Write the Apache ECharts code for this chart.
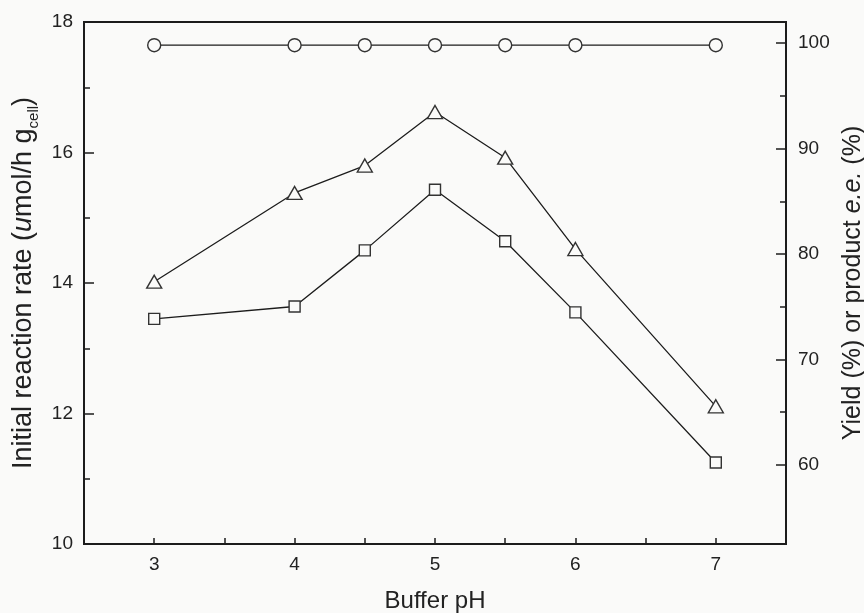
<!DOCTYPE html>
<html>
<head>
<meta charset="utf-8">
<script src="https://cdn.jsdelivr.net/npm/echarts@6/dist/echarts.min.js"></script>
<style>
html,body{margin:0;padding:0;background:#fafaf9;}
#c{width:864px;height:613px;}
</style>
</head>
<body>
<div id="c"></div>
<script>
// Data
const pH = [3, 4, 4.5, 5, 5.5, 6, 7];
const rateTriangle = [14.02, 15.38, 15.8, 16.62, 15.92, 14.52, 12.11]; // left axis
const rateSquare = [13.45, 13.64, 14.5, 15.43, 14.64, 13.55, 11.25];   // left axis
const eeCircle = [99.8, 99.8, 99.8, 99.8, 99.8, 99.8, 99.8];            // right axis (%)
const leftTicks = [10, 12, 14, 16, 18];
const rightTicks = [60, 70, 80, 90, 100];
const rightMinor = [65, 75, 85, 95];

const pairs = (ys) => pH.map((x, i) => [x, ys[i]]);
const ink = '#1c1c1c';
const bg = '#fafaf9';
const txt = '#222';
const font = 'Liberation Sans, Arial, sans-serif';

const chart = echarts.init(document.getElementById('c'), null, {renderer: 'canvas'});
const lineSeries = (name, ys, yIdx, symbol, size) => ({
  name, type: 'line', data: pairs(ys), yAxisIndex: yIdx,
  symbol, symbolSize: size, showSymbol: true,
  lineStyle: {color: ink, width: 1.3},
  itemStyle: {color: bg, borderColor: '#333', borderWidth: 1.4},
  emphasis: {disabled: true}, animation: false, z: 3
});

chart.setOption({
  backgroundColor: bg,
  animation: false,
  grid: {left: 84, right: 78, top: 22, bottom: 69, containLabel: false, outerBoundsMode: 'none',
    show: true, borderColor: ink, borderWidth: 2, backgroundColor: 'transparent'},
  xAxis: {
    type: 'value', min: 2.5, max: 7.5, interval: 0.5,
    name: 'Buffer pH', nameLocation: 'middle', nameGap: 45,
    nameTextStyle: {fontFamily: font, fontSize: 24, color: txt},
    axisLine: {show: true, lineStyle: {color: ink, width: 2}},
    axisTick: {show: true, inside: true, length: 6, lineStyle: {color: ink, width: 1.5}},
    axisLabel: {fontFamily: font, fontSize: 19, color: txt, margin: 11,
      formatter: v => (Math.abs(v - Math.round(v)) < 1e-9 ? String(Math.round(v)) : '')},
    splitLine: {show: false}
  },
  yAxis: [
    {
      type: 'value', position: 'left', min: 10, max: 18, interval: 2,
      name: '{n|Initial reaction rate (}{i|u}{n|mol/h g}{s|cell}{n|)}',
      nameLocation: 'middle', nameGap: 43, nameRotate: 90,
      nameTextStyle: {
        fontFamily: font, fontSize: 27, color: txt,
        rich: {
          n: {fontFamily: font, fontSize: 27, color: txt},
          i: {fontFamily: font, fontSize: 27, color: txt, fontStyle: 'italic'},
          s: {fontFamily: font, fontSize: 15, color: txt, verticalAlign: 'bottom', padding: [19, 0, 0, 0]}
        }
      },
      axisLine: {show: true, lineStyle: {color: ink, width: 2}},
      axisTick: {show: true, inside: true, length: 10, lineStyle: {color: ink, width: 1.5}},
      minorTick: {show: true, splitNumber: 2, length: 6, lineStyle: {color: ink, width: 1.5}},
      axisLabel: {fontFamily: font, fontSize: 19, color: txt, margin: 11},
      splitLine: {show: false}
    },
    {
      type: 'value', position: 'right', min: 52.5, max: 102,
      name: '{n|Yield (%) or product }{i|e.e.}{n| (%)}',
      nameLocation: 'middle', nameGap: 48, nameRotate: 90,
      nameTextStyle: {
        fontFamily: font, fontSize: 25, color: txt,
        rich: {
          n: {fontFamily: font, fontSize: 25, color: txt},
          i: {fontFamily: font, fontSize: 25, color: txt, fontStyle: 'italic'}
        }
      },
      axisLine: {show: true, lineStyle: {color: ink, width: 2}},
      axisTick: {show: true, inside: true, length: 10, customValues: rightTicks, lineStyle: {color: ink, width: 1.5}},
      axisLabel: {fontFamily: font, fontSize: 19, color: txt, margin: 12, customValues: rightTicks},
      splitLine: {show: false}
    },
    {
      type: 'value', position: 'right', min: 52.5, max: 102,
      axisLine: {show: false},
      axisTick: {show: true, inside: true, length: 6, customValues: rightMinor, lineStyle: {color: ink, width: 1.5}},
      axisLabel: {show: false},
      splitLine: {show: false}
    }
  ],
  series: [
    lineSeries('ee', eeCircle, 1, 'circle', 13),
    lineSeries('triangle', rateTriangle, 0, 'triangle', [15, 13]),
    lineSeries('square', rateSquare, 0, 'rect', 11)
  ]
});
</script>
</body>
</html>
